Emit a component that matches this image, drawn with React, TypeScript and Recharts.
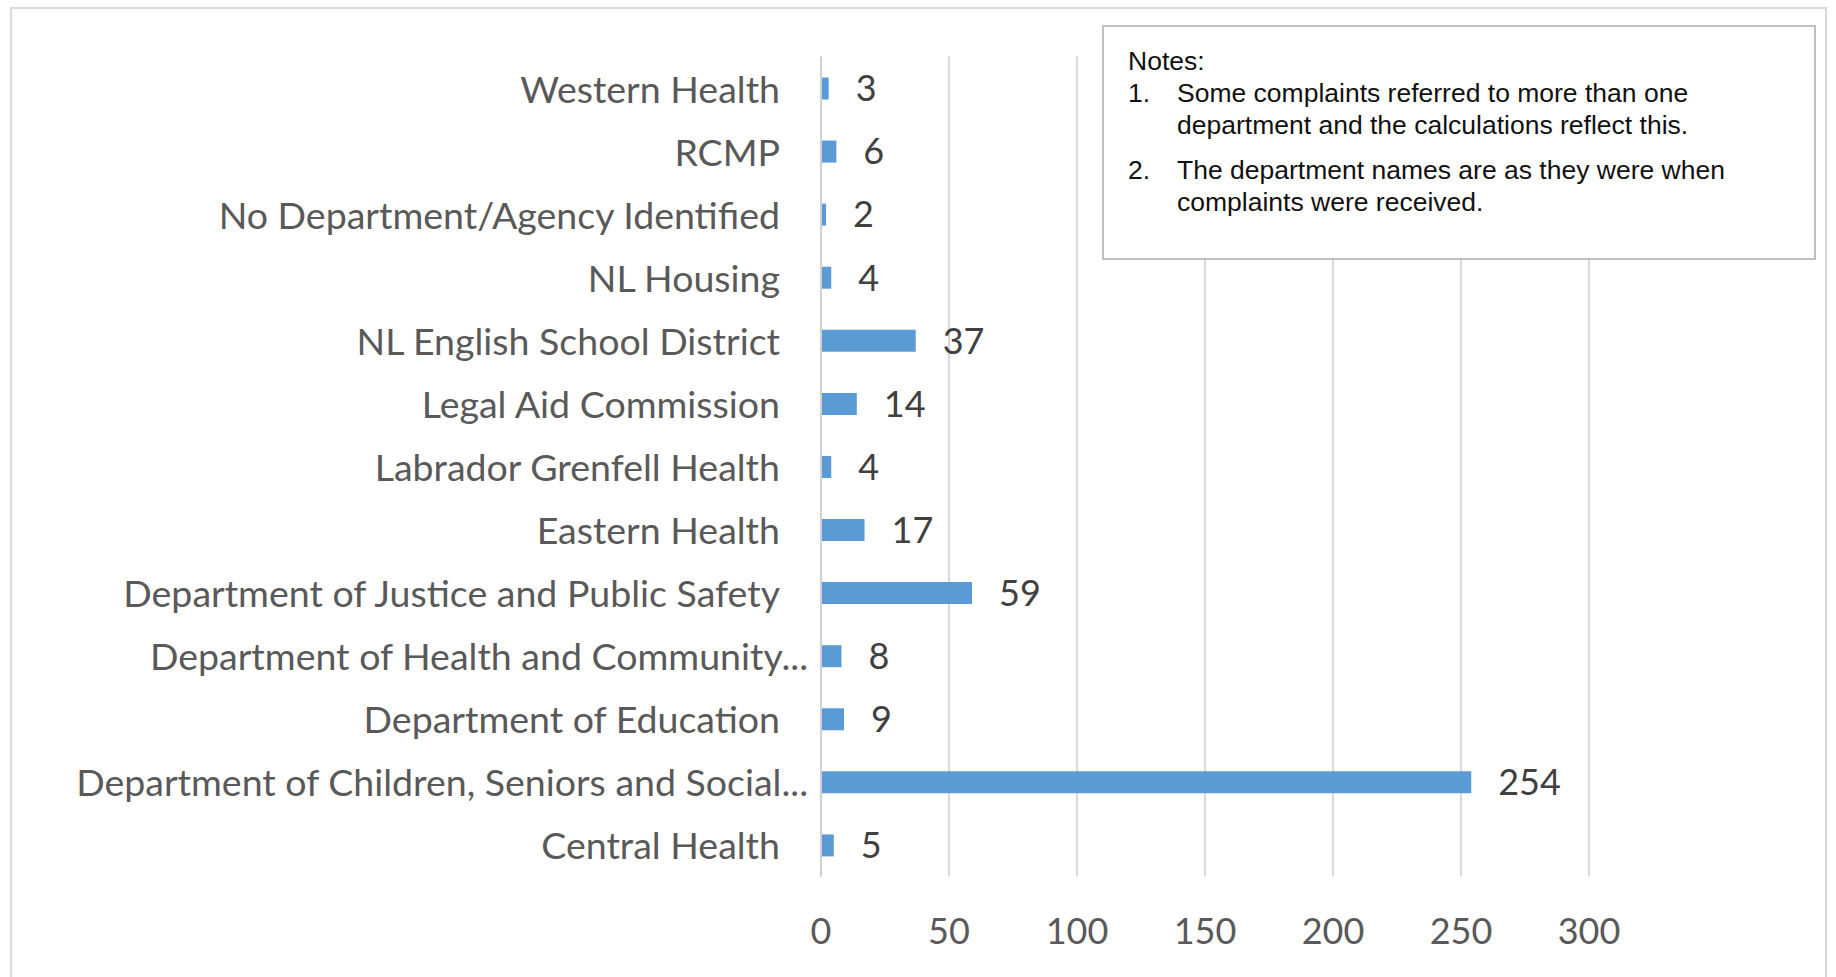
import React from 'react';
import { BarChart, Bar, XAxis, YAxis, CartesianGrid, LabelList } from 'recharts';

const departments = [
  'Western Health',
  'RCMP',
  'No Department/Agency Identified',
  'NL Housing',
  'NL English School District',
  'Legal Aid Commission',
  'Labrador Grenfell Health',
  'Eastern Health',
  'Department of Justice and Public Safety',
  'Department of Health and Community...',
  'Department of Education',
  'Department of Children, Seniors and Social...',
  'Central Health',
];

const complaints = [3, 6, 2, 4, 37, 14, 4, 17, 59, 8, 9, 254, 5];

const xTicks = [0, 50, 100, 150, 200, 250, 300];

const notes = [
  ['Some complaints referred to more than one', 'department and the calculations reflect this.'],
  ['The department names are as they were when', 'complaints were received.'],
];

const data = departments.map((name, i) => ({ name, value: complaints[i] }));

const FONT = 'Lato, "Open Sans", sans-serif';

const CategoryTick = (props: any) => {
  const { x, y, payload } = props;
  const cut = String(payload.value).endsWith('...');
  return (
    <text
      x={x + (cut ? 28 : 0)}
      y={y}
      textAnchor="end"
      dominantBaseline="central"
      fill="#595959"
      fontSize={37.5}
      fontFamily={FONT}
    >
      {payload.value}
    </text>
  );
};

export default function App() {
  return (
    <div style={{ position: 'absolute', left: 0, top: 0, width: 1836, height: 977, background: '#fff', overflow: 'hidden' }}>
      <div
        style={{
          position: 'absolute',
          left: 10,
          top: 7,
          width: 1817,
          height: 1000,
          border: '2px solid #d9d9d9',
          boxSizing: 'border-box',
        }}
      />
      <div style={{ position: 'absolute', left: 0, top: 0 }}>
        <BarChart
          width={1836}
          height={977}
          data={data}
          layout="vertical"
          margin={{ top: 56.5, right: 247, bottom: 40, left: 0 }}
          barSize={22}
        >
          <CartesianGrid horizontal={false} stroke="#d9d9d9" strokeWidth={2} />
          <XAxis
            type="number"
            domain={[0, 300]}
            ticks={xTicks}
            height={60.5}
            axisLine={false}
            tickLine={false}
            tickMargin={36}
            tick={{ fill: '#595959', fontSize: 36, fontFamily: FONT }}
          />
          <YAxis
            type="category"
            dataKey="name"
            width={821}
            interval={0}
            tickLine={false}
            tickMargin={35}
            axisLine={{ stroke: '#d0d0d0', strokeWidth: 2 }}
            tick={<CategoryTick />}
          />
          <Bar dataKey="value" fill="#5b9bd5" isAnimationActive={false}>
            <LabelList
              dataKey="value"
              position="right"
              offset={27}
              fill="#404040"
              fontSize={36}
              fontFamily={FONT}
            />
          </Bar>
        </BarChart>
      </div>
      <div
        style={{
          position: 'absolute',
          left: 1102,
          top: 25,
          width: 714,
          height: 235,
          border: '2px solid #bfbfbf',
          boxSizing: 'border-box',
          background: '#fff',
          fontFamily: '"Liberation Sans", Arial, sans-serif',
          fontSize: 26.5,
          color: '#111',
        }}
      >
        <div style={{ position: 'absolute', left: 24, top: 18, lineHeight: '32px' }}>Notes:</div>
        {notes.map((lines, i) => (
          <div key={i} style={{ position: 'absolute', left: 24, top: 50 + i * 77, lineHeight: '32px' }}>
            <span style={{ position: 'absolute', left: 0 }}>{i + 1}.</span>
            <div style={{ marginLeft: 49, whiteSpace: 'nowrap' }}>
              {lines.map((l, j) => (
                <div key={j}>{l}</div>
              ))}
            </div>
          </div>
        ))}
      </div>
    </div>
  );
}
